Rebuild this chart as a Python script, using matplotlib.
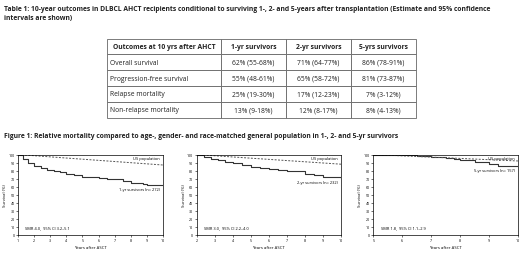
import numpy as np
import matplotlib
matplotlib.use('Agg')
import matplotlib.pyplot as plt

plt.rcParams['font.family'] = ['Open Sans', 'DejaVu Sans']

# table data
col_labels = ['Outcomes at 10 yrs after AHCT', '1-yr survivors', '2-yr survivors', '5-yrs survivors']
row_names = ['Overall survival', 'Progression-free survival', 'Relapse mortality', 'Non-relapse mortality']
yr1 = ['62% (55-68%)', '55% (48-61%)', '25% (19-30%)', '13% (9-18%)']
yr2 = ['71% (64-77%)', '65% (58-72%)', '17% (12-23%)', '12% (8-17%)']
yr5 = ['86% (78-91%)', '81% (73-87%)', '7% (3-12%)', '8% (4-13%)']

# survival curves
t1 = [1, 1.3, 1.6, 2, 2.4, 2.8, 3.2, 3.6, 4, 4.5, 5, 5.5, 6, 6.5, 7, 7.5, 8, 8.5, 8.8, 9, 10]
s1 = [100, 95, 89, 86, 83, 81, 80, 78, 76, 74, 72, 72, 71, 70, 69, 67, 65, 64, 63, 62, 62]
us1 = [100, 87]
t2 = [2, 2.4, 2.8, 3.2, 3.6, 4, 4.5, 5, 5.5, 6, 6.5, 7, 7.5, 8, 8.5, 9, 10]
s2 = [100, 97, 94, 93, 91, 89, 87, 85, 83, 82, 81, 80, 79, 76, 74, 72, 71]
us2 = [100, 88]
t3 = [5, 5.5, 6, 6.5, 7, 7.5, 7.8, 8, 8.5, 9, 9.3, 10]
s3 = [100, 100, 99, 98, 97, 96, 95, 93, 91, 88, 86, 86]
us3 = [100, 92]

labels = ['1-yr survivors (n= 272)', '2-yr survivors (n= 232)', '5-yr survivors (n= 157)']
label_y = [57, 66, 81]
smr = ['SMR 4.0,  95% CI 3.2\u20135.1', 'SMR 3.0,  95% CI 2.2\u20134.0', 'SMR 1.8,  95% CI 1.1\u20132.9']

fig = plt.figure(figsize=(5.2, 2.55), dpi=100)
fig.text(0.008, 0.978, 'Table 1: 10-year outcomes in DLBCL AHCT recipients conditional to surviving 1-, 2- and 5-years after transplantation (Estimate and 95% confidence\nintervals are shown)',
         fontsize=4.9, fontweight='bold', va='top', ha='left', linespacing=1.45, color='#222222')

tax = fig.add_axes([0.205, 0.535, 0.595, 0.31])
tax.axis('off')
cells = [[r, a, b, c] for r, a, b, c in zip(row_names, yr1, yr2, yr5)]
tb = tax.table(cellText=cells, colLabels=col_labels, bbox=[0, 0, 1, 1],
               colWidths=[0.37, 0.21, 0.21, 0.21], cellLoc='center')
tb.auto_set_font_size(False)
for (r, c), cell in tb.get_celld().items():
    cell.set_edgecolor('#666666')
    cell.set_linewidth(0.6)
    cell.get_text().set_fontsize(4.9)
    cell.get_text().set_color('#222222')
    if r == 0:
        cell.get_text().set_fontweight('bold')
    elif c == 0:
        cell.set_text_props(ha='left')
        cell.PAD = 0.03

fig.text(0.008, 0.478, 'Figure 1: Relative mortality compared to age-, gender- and race-matched general population in 1-, 2- and 5-yr survivors',
         fontsize=4.85, fontweight='bold', va='top', ha='left', color='#222222')

panels = [(0.035, t1, s1, us1, 1), (0.378, t2, s2, us2, 2), (0.718, t3, s3, us3, 5)]
for i, (x0, t, s, us, start) in enumerate(panels):
    ax = fig.add_axes([x0, 0.075, 0.278, 0.315])
    ax.step(t, s, where='post', color='#333333', lw=0.8)
    ax.plot([start, 10], us, color='#555555', lw=0.7, ls=(0, (2, 1.5)))
    ax.set_xlim(start, 10)
    ax.set_ylim(0, 100)
    ax.set_xticks(range(start, 11))
    ax.set_yticks(range(0, 101, 10))
    ax.tick_params(labelsize=2.6, length=1.5, width=0.4, pad=1)
    for sp in ax.spines.values():
        sp.set_linewidth(0.5)
    ax.set_xlabel('Years after ASCT', fontsize=3.1, labelpad=2)
    ax.set_ylabel('Survival (%)', fontsize=3.1, labelpad=1)
    ax.text(0.98, 0.955, 'US population', transform=ax.transAxes, fontsize=2.9, ha='right', va='center')
    ax.text(0.98, label_y[i], labels[i], transform=ax.get_yaxis_transform(), fontsize=2.9, ha='right', va='center')
    ax.text(0.05, 10, smr[i], transform=ax.get_yaxis_transform(), fontsize=2.9, ha='left', va='center')

fig.savefig('out.png', dpi=100)
